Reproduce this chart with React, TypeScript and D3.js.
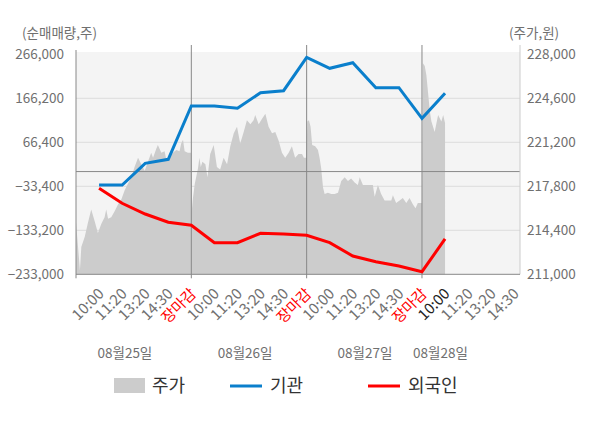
import * as d3 from "d3";

// 시간 위치: 하루 = 5칸 (09:00 시작, 10:00, 11:20, 13:20, 14:30, 장마감)
const xTickLabels = [
  "10:00", "11:20", "13:20", "14:30", "장마감",
  "10:00", "11:20", "13:20", "14:30", "장마감",
  "10:00", "11:20", "13:20", "14:30", "장마감",
  "10:00", "11:20", "13:20", "14:30",
];
const dayBreaks = [0, 5, 10, 15];
const dateLabels = ["08월25일", "08월26일", "08월27일", "08월28일"];
const datePos = [2.12, 7.33, 12.53, 15.8];
const currentTick = 15; // index of the dark 10:00 label

const leftTicks = [266000, 166200, 66400, -33400, -133200, -233000];
const rightTicks = [228000, 224600, 221200, 217800, 214400, 211000];

// 기관 / 외국인 누적 순매매량 (t = 1..16)
const flowT = [1, 2, 3, 4, 5, 6, 7, 8, 9, 10, 11, 12, 13, 14, 15, 16];
const institution = [
  -30400, -30400, 18800, 27800, 148700, 148700, 143500, 178900, 183400,
  259200, 234200, 246900, 190200, 190200, 120800, 177500,
];
const foreign = [
  -37900, -71900, -96200, -115000, -121800, -161300, -161300, -140000,
  -141600, -144500, -161300, -191500, -204400, -214200, -227100, -152900,
];

// 주가 [t, price]
const price: [number, number][] = [
  [0, 215000], [0.13, 212200], [0.17, 211300], [0.23, 213100], [0.38, 213900],
  [0.52, 215000], [0.66, 216000], [0.81, 215100], [0.95, 214200], [1.1, 214900],
  [1.24, 215400], [1.31, 216000], [1.39, 215300], [1.53, 215400], [1.68, 215900],
  [1.82, 216400], [1.97, 216800], [2.11, 217500], [2.25, 218000], [2.4, 218500],
  [2.54, 219300], [2.69, 220000], [2.83, 219500], [2.98, 219000], [3.12, 219700],
  [3.26, 220400], [3.34, 220000], [3.48, 220700], [3.55, 221000], [3.7, 220400],
  [3.84, 220500], [3.91, 219900], [4.06, 220000], [4.2, 220400], [4.35, 220600],
  [4.49, 220500], [4.56, 221100], [4.64, 221400], [4.71, 220500], [4.85, 220400],
  [4.99, 220400],
  [5.02, 215900], [5.07, 216900], [5.15, 218000], [5.29, 219200], [5.35, 220000],
  [5.41, 219300], [5.48, 219700], [5.61, 219500], [5.7, 218500], [5.82, 220300],
  [5.97, 221000], [6.11, 219300], [6.25, 219100], [6.4, 220000], [6.55, 219500],
  [6.69, 220900], [6.84, 221900], [6.98, 222400], [7.12, 221100], [7.27, 222000],
  [7.41, 222900], [7.56, 222600], [7.7, 222900], [7.77, 223300], [7.92, 222600],
  [8.06, 223000], [8.21, 223400], [8.35, 222400], [8.5, 221900], [8.64, 222000],
  [8.79, 221300], [8.93, 220400], [9.07, 220000], [9.22, 220400], [9.36, 220900],
  [9.5, 220000], [9.65, 220300], [9.8, 220300], [9.88, 220000], [9.99, 220000],
  [10.03, 222800], [10.1, 222900], [10.17, 222400], [10.24, 221000], [10.37, 220900],
  [10.49, 220600], [10.56, 220000], [10.63, 219200], [10.71, 217700], [10.78, 217200],
  [10.92, 217300], [11.07, 217200], [11.21, 217200], [11.36, 217300], [11.5, 218200],
  [11.65, 218500], [11.79, 218200], [11.93, 218400], [12.08, 218100], [12.22, 217900],
  [12.3, 218500], [12.44, 217900], [12.58, 217900], [12.73, 217900], [12.87, 217900],
  [12.95, 217000], [13.09, 217900], [13.23, 217200], [13.38, 216700], [13.52, 216700],
  [13.67, 216700], [13.74, 217100], [13.88, 216500], [14.03, 216700], [14.17, 216900],
  [14.32, 216500], [14.46, 216900], [14.61, 216400], [14.72, 216100], [14.82, 216500],
  [14.94, 216500], [15.0, 216500],
  [15.04, 227300], [15.12, 227100], [15.19, 226400], [15.26, 225100], [15.34, 223600],
  [15.41, 222800], [15.55, 222000], [15.7, 223300], [15.84, 222800], [15.92, 223300],
  [16.0, 222700],
];

const W = 600;
const H = 428;
const left = 76;
const right = 520;
const top = 54.3;
const bottom = 274.3;
const font = "'Noto Sans CJK KR', 'Noto Sans', sans-serif";
const gray = "#707070";

const x = d3.scaleLinear().domain([0, 19.25]).range([left, right]);
const yL = d3.scaleLinear().domain([-233000, 266000]).range([bottom, top]);
const yR = d3.scaleLinear().domain([211000, 228000]).range([bottom, top]);

const fmt = d3.format(",");

export default function App() {
  const area = d3
    .area<[number, number]>()
    .x((d) => x(d[0]))
    .y0(bottom)
    .y1((d) => yR(d[1]))(price);

  const line = d3
    .line<number>()
    .x((_, i) => x(flowT[i]))
    .y((d) => yL(d));

  return (
    <div style={{ position: "fixed", left: 0, top: 0 }}>
      <svg width={W} height={H} style={{ display: "block", fontFamily: font }}>
        <rect x={0} y={0} width={W} height={H} fill="#fff" />
        <rect x={left} y={52} width={right - left} height={bottom - 52} fill="#f4f4f4" />

        {/* grid */}
        {leftTicks.slice(1, -1).map((v) => (
          <line key={v} x1={left} x2={right} y1={yL(v)} y2={yL(v)} stroke="#dcdcdc" />
        ))}

        <path d={area ?? ""} fill="#cccccc" />

        {/* zero line */}
        <line x1={left} x2={right} y1={yL(0)} y2={yL(0)} stroke="#888" />

        {/* day separators */}
        {dayBreaks.map((t) => (
          <line
            key={t}
            x1={x(t)}
            x2={x(t)}
            y1={t === 0 ? 50 : 45}
            y2={bottom + 4}
            stroke="#888"
          />
        ))}
        <line x1={right} x2={right} y1={45} y2={bottom} stroke="#ccc" />
        <line x1={left} x2={right} y1={bottom} y2={bottom} stroke="#888" />

        <path d={line(institution) ?? ""} fill="none" stroke="#0a7fcc" strokeWidth={3} />
        <path d={line(foreign) ?? ""} fill="none" stroke="#ff0000" strokeWidth={3} />

        {/* axis titles */}
        <text x={22} y={38} fontSize={13.5} fill={gray}>(순매매량,주)</text>
        <text x={509} y={38} fontSize={13.5} fill={gray}>(주가,원)</text>

        {leftTicks.map((v) => (
          <text key={v} x={64} y={yL(v)} dy="0.35em" textAnchor="end" fontSize={13.5} fill={gray}>
            {fmt(v)}
          </text>
        ))}
        {rightTicks.map((v) => (
          <text key={v} x={527} y={yR(v)} dy="0.35em" fontSize={13.5} fill={gray}>
            {fmt(v)}
          </text>
        ))}

        {xTickLabels.map((s, i) => {
          const t = i + 1;
          const color = s === "장마감" ? "#ff0000" : t === currentTick + 1 ? "#222" : gray;
          return (
            <text
              key={i}
              transform={`translate(${x(t) + 2},${291}) rotate(-45)`}
              textAnchor="end"
              dy="0.35em"
              fontSize={15}
              fill={color}
            >
              {s}
            </text>
          );
        })}

        {dateLabels.map((s, i) => (
          <text key={s} x={x(datePos[i])} y={353} dy="0.35em" textAnchor="middle" fontSize={13.5} fill={gray}>
            {s}
          </text>
        ))}

        {/* legend */}
        <rect x={114} y={378} width={31} height={15} fill="#cccccc" />
        <text x={152} y={386} dy="0.35em" fontSize={18} fill="#333">주가</text>
        <line x1={230} x2={262} y1={386} y2={386} stroke="#0a7fcc" strokeWidth={3} />
        <text x={270} y={386} dy="0.35em" fontSize={18} fill="#333">기관</text>
        <line x1={368} x2={400} y1={386} y2={386} stroke="#ff0000" strokeWidth={3} />
        <text x={408} y={386} dy="0.35em" fontSize={18} fill="#333">외국인</text>
      </svg>
    </div>
  );
}
